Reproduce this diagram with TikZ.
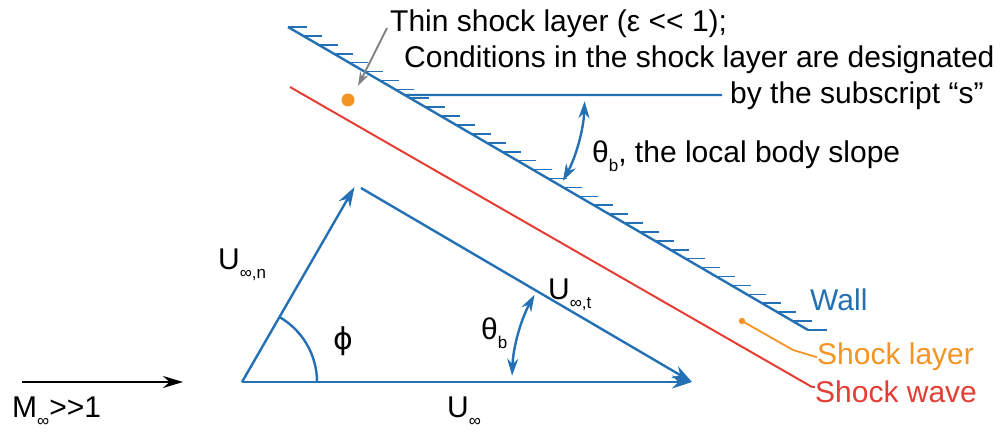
\documentclass[tikz,border=0pt]{standalone}
\usepackage{fontspec}
\setmainfont{Liberation Sans}
\newfontfamily\greekfont{DejaVu Sans}
\usetikzlibrary{arrows.meta,calc}

\definecolor{wallblue}{RGB}{36,112,180}
\definecolor{shockred}{RGB}{228,62,52}
\definecolor{layerorange}{RGB}{244,148,36}
\newcommand\lowsub[1]{\raisebox{-0.3em}{\fontsize{17}{17}\selectfont#1}}

\begin{document}
\begin{tikzpicture}[
  x=1pt, y=1pt,
  font=\fontsize{30}{34}\selectfont,
  blueline/.style={draw=wallblue, line width=2.4pt},
  vecarrow/.style={blueline, -{Stealth[length=20pt, width=13pt]}},
  anglearrow/.style={blueline, {Stealth[length=17pt, width=11pt]}-{Stealth[length=17pt, width=11pt]}},
  hatch/.style={draw=wallblue, line width=1.6pt},
  txt/.style={anchor=base west, inner sep=0pt},
]
\useasboundingbox (0,0) rectangle (1001,433);

% ===== wall, shock wave and shock layer =====
\coordinate (w1) at (288,406);
\coordinate (w2) at (808,103);
\draw[blueline] (w1) -- (w2);
\foreach \k in {0,...,34}
  \draw[hatch] ($(w1)!\k/34!(w2)$) -- ++(19,0);

\coordinate (s1) at (290,346);
\coordinate (s2) at (812,46);
\draw[shockred, line width=2pt] (s1) -- (s2);

\fill[layerorange] (348,333) circle (6.5) coordinate (dot);
\node[txt] (thin) at (390,401) {Thin shock layer (ε <{}< 1);};
\node[txt] (cond) at (404,365) {Conditions in the shock layer are designated};
\node[txt] (subs) at (730,329) {by the subscript “s”};
\draw[gray, line width=2pt, -{Stealth[length=14pt, width=9pt]}] (thin.base west) ++(-3,4) coordinate (g1) -- ($(dot)+(10,14)$);

% local body slope
\coordinate (h1) at ($(w1)!68/303!(w2)$);
\coordinate (h2) at (722,338);
\draw[blueline] (h1) -- (h2);
\draw[anglearrow] ($(h1)+(-2:180)$) arc[start angle=-2, end angle=-28.5, radius=180];
\node[txt] (slope) at (592,270) {θ\lowsub{b}, the local body slope};

\fill[layerorange] (742,112) circle (3.2) coordinate (ldot);
\coordinate (lk) at (793,83);
\node[txt, text=wallblue] (wall) at (810,122) {Wall};
\node[txt, text=layerorange] (layer) at (817,68) {Shock layer};
\node[txt, text=shockred] (wave) at (815,30) {Shock wave};
\draw[layerorange, line width=1.8pt] (ldot) -- (lk) -- (layer.west);
\draw[shockred, line width=2pt] (s2) -- ++(3,0);

% ===== velocity triangle =====
\coordinate (V) at (242,51);
\coordinate (E) at (692,51);
\coordinate (A) at (354.5,246);
\coordinate (At) at (361,245);
\draw[vecarrow] (V) -- (A);
\draw[vecarrow] (V) -- (E);
\draw[vecarrow] (At) -- (E);
\draw[blueline] ($(V)+(75,0)$) arc[start angle=0, end angle=60, radius=75];
\draw[anglearrow] ($(E)+(178:180)$) arc[start angle=178, end angle=151, radius=180];

\node[txt] (un) at (218,163) {U\lowsub{∞,n}};
\node[txt] (ut) at (548,133) {U\lowsub{∞,t}};
\node[txt] (uinf) at (447,15) {U\lowsub{∞}};
\node[txt] (phi) at (333,83) {\greekfont ϕ};
\node[txt] (thb) at (481,93) {θ\lowsub{b}};

% free stream
\coordinate (m1) at (22,51);
\coordinate (m2) at (183,51);
\draw[line width=2pt, -{Stealth[length=20pt, width=12pt]}] (m1) -- (m2);
\node[txt] (mach) at (12,15) {M\lowsub{∞}>{}>1};

\end{tikzpicture}
\end{document}
